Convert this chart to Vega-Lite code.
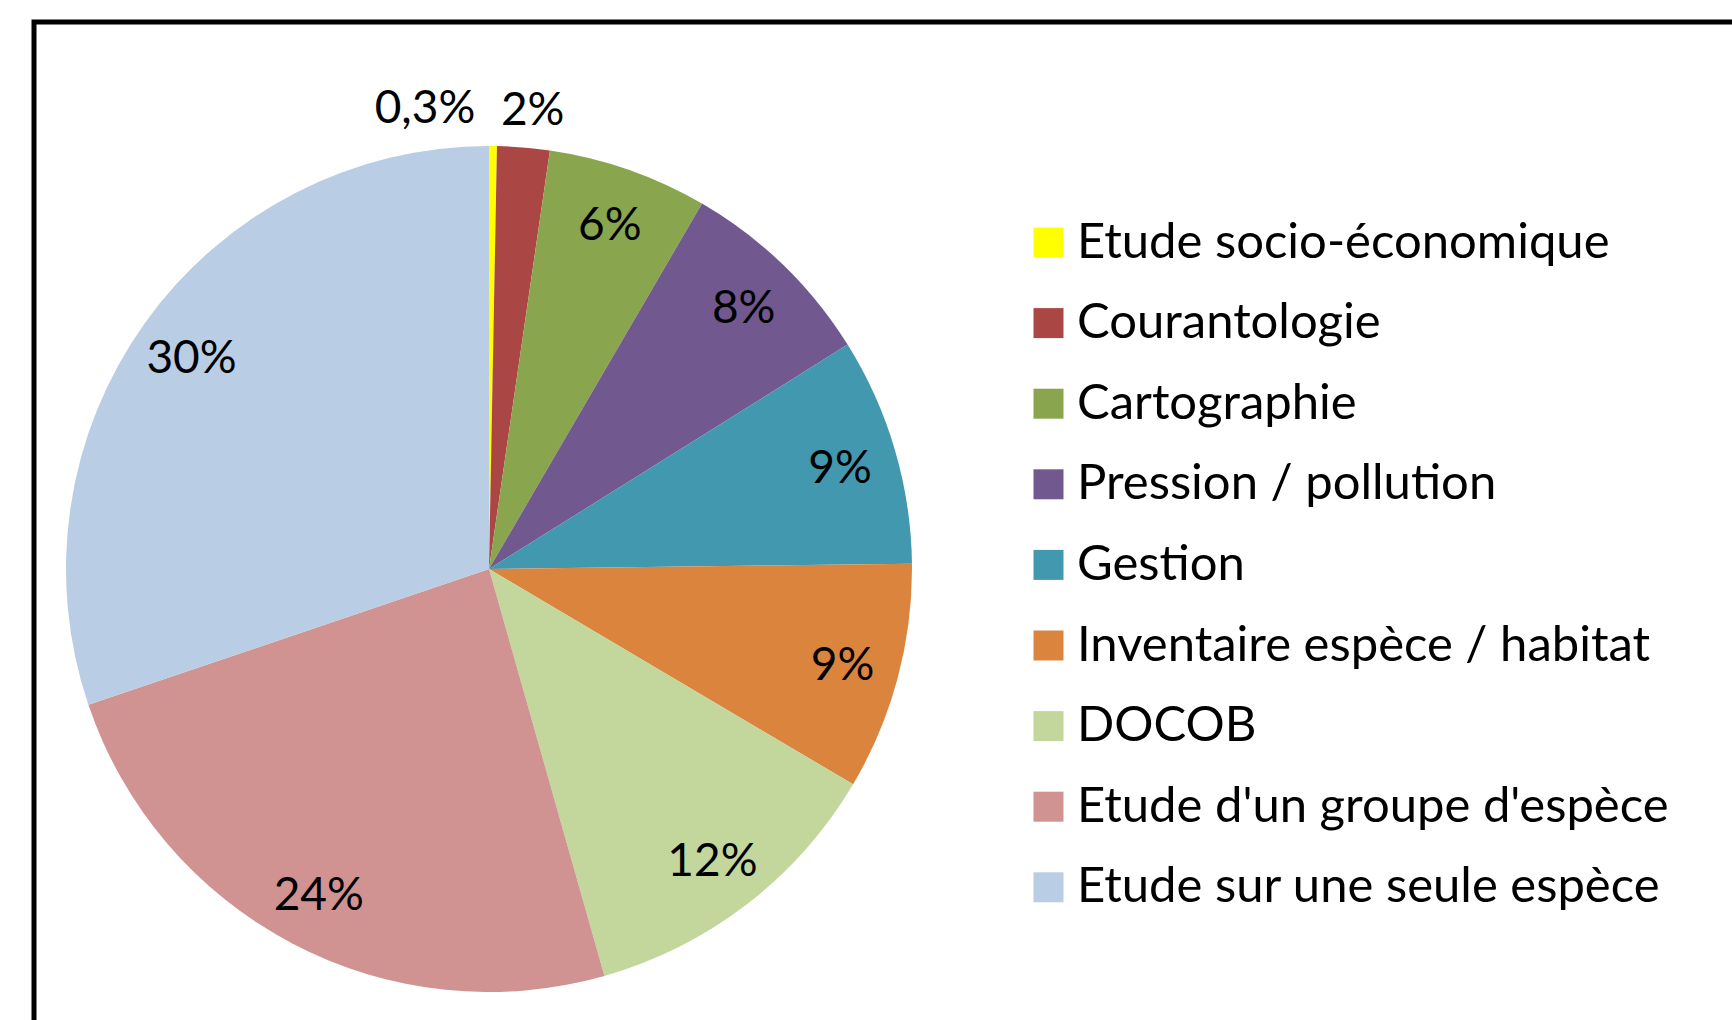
{
  "$schema": "https://vega.github.io/schema/vega-lite/v6.json",
  "width": 1732,
  "height": 1020,
  "autosize": {"type": "fit", "contains": "padding"},
  "padding": {"left": 34, "top": 22, "right": -6, "bottom": -6},
  "background": "white",
  "config": {
    "view": {"stroke": "black", "strokeWidth": 5},
    "font": "Lato",
    "legend": {
      "orient": "none",
      "legendX": 990,
      "legendY": 196,
      "padding": 0,
      "symbolType": "square",
      "symbolSize": 900,
      "symbolStrokeWidth": 0,
      "labelFont": "Lato",
      "labelFontSize": 49,
      "labelColor": "black",
      "labelOffset": 4,
      "rowPadding": 30.6,
      "labelLimit": 700
    }
  },
  "data": {
    "values": [
      {"n": 1, "cat": "Etude socio-économique", "value": 0.3, "label": "0,3%"},
      {"n": 2, "cat": "Courantologie", "value": 2.0, "label": "2%"},
      {"n": 3, "cat": "Cartographie", "value": 6.1, "label": "6%"},
      {"n": 4, "cat": "Pression / pollution", "value": 7.7, "label": "8%"},
      {"n": 5, "cat": "Gestion", "value": 8.7, "label": "9%"},
      {"n": 6, "cat": "Inventaire espèce / habitat", "value": 8.7, "label": "9%"},
      {"n": 7, "cat": "DOCOB", "value": 12.1, "label": "12%"},
      {"n": 8, "cat": "Etude d'un groupe d'espèce", "value": 24.2, "label": "24%"},
      {"n": 9, "cat": "Etude sur une seule espèce", "value": 30.2, "label": "30%"}
    ]
  },
  "encoding": {
    "theta": {"field": "value", "type": "quantitative", "stack": true},
    "order": {"field": "n", "type": "quantitative"},
    "x": {"value": 455},
    "y": {"value": 547}
  },
  "layer": [
    {
      "mark": {"type": "arc", "outerRadius": 423},
      "encoding": {
        "color": {
          "field": "cat",
          "type": "nominal",
          "sort": ["Etude socio-économique", "Courantologie", "Cartographie", "Pression / pollution", "Gestion", "Inventaire espèce / habitat", "DOCOB", "Etude d'un groupe d'espèce", "Etude sur une seule espèce"],
          "scale": {
            "domain": ["Etude socio-économique", "Courantologie", "Cartographie", "Pression / pollution", "Gestion", "Inventaire espèce / habitat", "DOCOB", "Etude d'un groupe d'espèce", "Etude sur une seule espèce"],
            "range": ["#FFFF00", "#AA4643", "#89A54E", "#71588F", "#4198AF", "#DB843D", "#C3D69B", "#D19392", "#B9CDE5"]
          },
          "legend": {"title": null}
        }
      }
    },
    {
      "mark": {"type": "text", "radius": 366, "fontSize": 46, "font": "Lato", "color": "black", "baseline": "middle", "align": "center", "dy": 3},
      "encoding": {
        "detail": {"field": "cat", "type": "nominal"},
        "text": {"field": "label", "type": "nominal", "condition": {"test": "datum.n <= 2", "value": ""}}
      }
    },
    {
      "mark": {"type": "text", "radius": 462, "fontSize": 46, "font": "Lato", "color": "black", "baseline": "middle", "align": "center", "dx": 6, "dy": 2},
      "encoding": {
        "detail": {"field": "cat", "type": "nominal"},
        "text": {"field": "label", "type": "nominal", "condition": {"test": "datum.n != 2", "value": ""}}
      }
    },
    {
      "mark": {"type": "text", "radius": 462, "fontSize": 46, "font": "Lato", "color": "black", "baseline": "middle", "align": "right", "dx": -18, "dy": 2},
      "encoding": {
        "detail": {"field": "cat", "type": "nominal"},
        "text": {"field": "label", "type": "nominal", "condition": {"test": "datum.n != 1", "value": ""}}
      }
    }
  ]
}
